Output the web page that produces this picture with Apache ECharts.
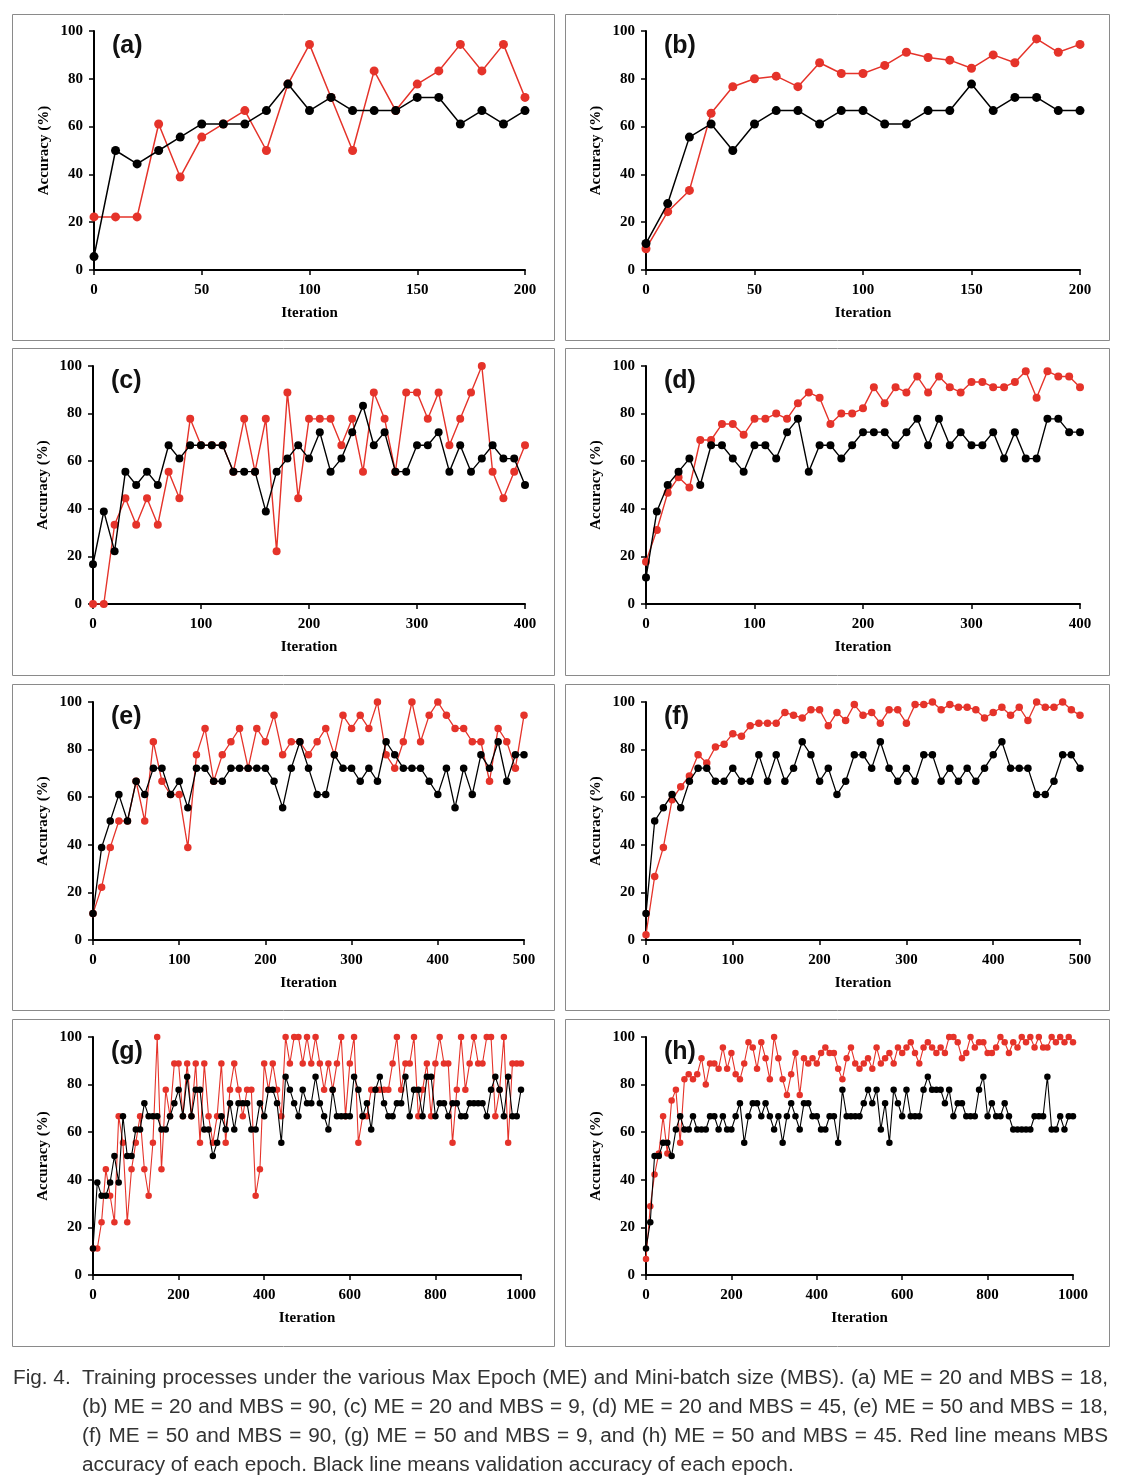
<!DOCTYPE html>
<html><head><meta charset="utf-8">
<script src="https://cdn.jsdelivr.net/npm/echarts@6/dist/echarts.min.js"></script>
<style>
html,body{margin:0;padding:0;background:#fff;}
#chart{position:absolute;left:0;top:0;width:1129px;height:1483px;}
#cap{position:absolute;left:13px;top:1362px;width:1095px;font-family:"Liberation Sans",Arial,sans-serif;font-size:21px;color:#333;line-height:29px;}
#cap .row{display:flex;align-items:flex-start;}
#cap .lead{width:69px;flex:none;}
#cap .j{display:block;flex:1;text-align:justify;text-align-last:justify;}
#cap .ind{padding-left:69px;}
</style></head>
<body>
<div id="chart"></div>
<div id="cap">
<div class="row"><span class="lead">Fig. 4.</span><span class="j">Training processes under the various Max Epoch (ME) and Mini-batch size (MBS). (a) ME = 20 and MBS = 18,</span></div>
<div class="row ind"><span class="j">(b) ME = 20 and MBS = 90, (c) ME = 20 and MBS = 9, (d) ME = 20 and MBS = 45, (e) ME = 50 and MBS = 18,</span></div>
<div class="row ind"><span class="j">(f) ME = 50 and MBS = 90, (g) ME = 50 and MBS = 9, and (h) ME = 50 and MBS = 45. Red line means MBS</span></div>
<div class="row ind"><span>accuracy of each epoch. Black line means validation accuracy of each epoch.</span></div>
</div>
<script>
// ---- data (accuracy %, one point every 10 iterations) ----
const aRed   = [22.2,22.2,22.2,61.1,38.9,55.6,61.1,66.7,50,77.8,94.4,72.2,50,83.3,66.7,77.8,83.3,94.4,83.3,94.4,72.2];
const aBlack = [5.6,50,44.4,50,55.6,61.1,61.1,61.1,66.7,77.8,66.7,72.2,66.7,66.7,66.7,72.2,72.2,61.1,66.7,61.1,66.7];

const bRed   = [8.9,24.4,33.3,65.6,76.7,80,81.1,76.7,86.7,82.2,82.2,85.6,91.1,88.9,87.8,84.4,90,86.7,96.7,91.1,94.4];
const bBlack = [11.1,27.8,55.6,61.1,50,61.1,66.7,66.7,61.1,66.7,66.7,61.1,61.1,66.7,66.7,77.8,66.7,72.2,72.2,66.7,66.7];

const cRed   = [0,0,33.3,44.4,33.3,44.4,33.3,55.6,44.4,77.8,66.7,66.7,66.7,55.6,77.8,55.6,77.8,22.2,88.9,44.4,77.8,77.8,77.8,66.7,77.8,55.6,88.9,77.8,55.6,88.9,88.9,77.8,88.9,66.7,77.8,88.9,100,55.6,44.4,55.6,66.7];
const cBlack = [16.7,38.9,22.2,55.6,50,55.6,50,66.7,61.1,66.7,66.7,66.7,66.7,55.6,55.6,55.6,38.9,55.6,61.1,66.7,61.1,72.2,55.6,61.1,72.2,83.3,66.7,72.2,55.6,55.6,66.7,66.7,72.2,55.6,66.7,55.6,61.1,66.7,61.1,61.1,50];

const dRed   = [17.8,31.1,46.7,53.3,48.9,68.9,68.9,75.6,75.6,71.1,77.8,77.8,80,77.8,84.4,88.9,86.7,75.6,80,80,82.2,91.1,84.4,91.1,88.9,95.6,88.9,95.6,91.1,88.9,93.3,93.3,91.1,91.1,93.3,97.8,86.7,97.8,95.6,95.6,91.1];
const dBlack = [11.1,38.9,50,55.6,61.1,50,66.7,66.7,61.1,55.6,66.7,66.7,61.1,72.2,77.8,55.6,66.7,66.7,61.1,66.7,72.2,72.2,72.2,66.7,72.2,77.8,66.7,77.8,66.7,72.2,66.7,66.7,72.2,61.1,72.2,61.1,61.1,77.8,77.8,72.2,72.2];

const eRed   = [11.1,22.2,38.9,50,50,66.7,50,83.3,66.7,61.1,61.1,38.9,77.8,88.9,66.7,77.8,83.3,88.9,72.2,88.9,83.3,94.4,77.8,83.3,83.3,77.8,83.3,88.9,77.8,94.4,88.9,94.4,88.9,100,77.8,72.2,83.3,100,83.3,94.4,100,94.4,88.9,88.9,83.3,83.3,66.7,88.9,83.3,72.2,94.4];
const eBlack = [11.1,38.9,50,61.1,50,66.7,61.1,72.2,72.2,61.1,66.7,55.6,72.2,72.2,66.7,66.7,72.2,72.2,72.2,72.2,72.2,66.7,55.6,72.2,83.3,72.2,61.1,61.1,77.8,72.2,72.2,66.7,72.2,66.7,83.3,77.8,72.2,72.2,72.2,66.7,61.1,72.2,55.6,72.2,61.1,77.8,72.2,83.3,66.7,77.8,77.8];

const fRed   = [2.2,26.7,38.9,58.9,64.4,68.9,77.8,74.4,81.1,82.2,86.7,85.6,90,91.1,91.1,91.1,95.6,94.4,93.3,96.7,96.7,90,95.6,92.2,98.9,94.4,95.6,91.1,96.7,96.7,91.1,98.9,98.9,100,96.7,98.9,97.8,97.8,96.7,93.3,95.6,97.8,94.4,97.8,92.2,100,97.8,97.8,100,96.7,94.4];
const fBlack = [11.1,50,55.6,61.1,55.6,66.7,72.2,72.2,66.7,66.7,72.2,66.7,66.7,77.8,66.7,77.8,66.7,72.2,83.3,77.8,66.7,72.2,61.1,66.7,77.8,77.8,72.2,83.3,72.2,66.7,72.2,66.7,77.8,77.8,66.7,72.2,66.7,72.2,66.7,72.2,77.8,83.3,72.2,72.2,72.2,61.1,61.1,66.7,77.8,77.8,72.2];

const gRed   = [11.1,11.1,22.2,44.4,33.3,22.2,66.7,55.6,22.2,44.4,
  55.6,66.7,44.4,33.3,55.6,100,44.4,77.8,66.7,88.9,
  88.9,66.7,88.9,66.7,88.9,55.6,88.9,66.7,55.6,66.7,
  88.9,55.6,77.8,88.9,77.8,66.7,77.8,77.8,33.3,44.4,
  88.9,77.8,88.9,77.8,66.7,100,88.9,100,100,88.9,
  100,88.9,100,88.9,77.8,88.9,77.8,88.9,100,66.7,
  88.9,100,55.6,66.7,66.7,77.8,77.8,77.8,77.8,77.8,
  88.9,100,77.8,88.9,88.9,100,66.7,77.8,88.9,66.7,
  88.9,100,88.9,88.9,55.6,77.8,100,77.8,88.9,100,
  88.9,88.9,100,100,66.7,77.8,100,55.6,88.9,88.9,
  88.9];
const gBlack = [11.1,38.9,33.3,33.3,38.9,50,38.9,66.7,50,50,
  61.1,61.1,72.2,66.7,66.7,66.7,61.1,61.1,66.7,72.2,
  77.8,66.7,83.3,66.7,77.8,77.8,61.1,61.1,50,55.6,
  66.7,61.1,72.2,61.1,72.2,72.2,72.2,61.1,61.1,72.2,
  66.7,77.8,77.8,72.2,55.6,83.3,77.8,72.2,66.7,77.8,
  72.2,72.2,83.3,72.2,66.7,61.1,77.8,66.7,66.7,66.7,
  66.7,83.3,77.8,66.7,72.2,61.1,77.8,83.3,72.2,66.7,
  66.7,72.2,72.2,83.3,66.7,77.8,77.8,66.7,83.3,83.3,
  66.7,72.2,72.2,66.7,72.2,72.2,66.7,66.7,72.2,72.2,
  72.2,72.2,66.7,77.8,83.3,77.8,66.7,83.3,66.7,66.7,
  77.8];

const hRed   = [6.7,28.9,42.2,51.1,66.7,51.1,73.3,77.8,55.6,82.2,
  84.4,82.2,84.4,91.1,80,88.9,88.9,86.7,95.6,86.7,
  93.3,84.4,82.2,88.9,97.8,95.6,86.7,97.8,91.1,82.2,
  100,91.1,82.2,75.6,84.4,93.3,75.6,91.1,88.9,91.1,
  88.9,93.3,95.6,93.3,93.3,86.7,82.2,91.1,95.6,88.9,
  86.7,88.9,91.1,86.7,95.6,88.9,91.1,93.3,88.9,95.6,
  93.3,95.6,97.8,93.3,88.9,95.6,97.8,95.6,93.3,95.6,
  93.3,100,100,97.8,91.1,93.3,100,95.6,97.8,97.8,
  93.3,93.3,95.6,100,97.8,93.3,97.8,95.6,100,97.8,
  100,95.6,100,95.6,95.6,100,97.8,100,97.8,100,
  97.8];
const hBlack = [11.1,22.2,50,50,55.6,55.6,50,61.1,66.7,61.1,
  61.1,66.7,61.1,61.1,61.1,66.7,66.7,61.1,66.7,61.1,
  61.1,66.7,72.2,55.6,66.7,72.2,72.2,66.7,72.2,66.7,
  61.1,66.7,55.6,66.7,72.2,66.7,61.1,72.2,72.2,66.7,
  66.7,61.1,61.1,66.7,66.7,55.6,77.8,66.7,66.7,66.7,
  66.7,72.2,77.8,72.2,77.8,61.1,72.2,55.6,77.8,72.2,
  66.7,77.8,66.7,66.7,66.7,77.8,83.3,77.8,77.8,77.8,
  72.2,77.8,66.7,72.2,72.2,66.7,66.7,66.7,77.8,83.3,
  66.7,72.2,66.7,66.7,72.2,66.7,61.1,61.1,61.1,61.1,
  61.1,66.7,66.7,66.7,83.3,61.1,61.1,66.7,61.1,66.7,
  66.7];

const iterStep = 10;
const panelLabels = ['(a)','(b)','(c)','(d)','(e)','(f)','(g)','(h)'];
const xMaxes = [200,200,400,400,500,500,1000,1000];
const xIntervals = [50,50,100,100,100,100,200,200];
const xName = 'Iteration';
const yName = 'Accuracy (%)';

// ---- layout ----
const grids = [
  {left:94, top:31, width:431, height:239},
  {left:646,top:31, width:434, height:239},
  {left:93, top:366,width:432, height:238},
  {left:646,top:366,width:434, height:238},
  {left:93, top:702,width:431, height:238},
  {left:646,top:702,width:434, height:238},
  {left:93, top:1037,width:428,height:238},
  {left:646,top:1037,width:427,height:238}
];
const boxes = [
  [12,14,542,326],[565,14,544,326],
  [12,348,542,327],[565,348,544,327],
  [12,684,542,326],[565,684,544,326],
  [12,1019,542,327],[565,1019,544,327]
];
const symSizes = [9,9,8,8,7.5,7.5,6.5,6.5];
const lineWidths = [1.5,1.5,1.4,1.4,1.3,1.3,1.1,1.1];
const reds = [aRed,bRed,cRed,dRed,eRed,fRed,gRed,hRed];
const blacks = [aBlack,bBlack,cBlack,dBlack,eBlack,fBlack,gBlack,hBlack];

const RED = '#e5332a', BLK = '#000';
const serif = '"Liberation Serif","Times New Roman",serif';
const sans = '"Liberation Sans",Arial,sans-serif';

const toPairs = arr => arr.map((v,i)=>[i*iterStep, v]);

const option = {
  animation:false,
  backgroundColor:'#fff',
  grid: grids.map(g=>Object.assign({containLabel:false},g)),
  xAxis: grids.map((g,i)=>({
    gridIndex:i, type:'value', min:0, max:xMaxes[i], interval:xIntervals[i],
    axisLine:{show:true,onZero:false,lineStyle:{color:'#000',width:2}},
    axisTick:{show:true,inside:false,length:5,lineStyle:{color:'#000',width:1.5}},
    splitLine:{show:false},
    axisLabel:{color:'#000',fontFamily:serif,fontWeight:'bold',fontSize:15,margin:13,formatter:v=>String(v)},
    name:xName, nameLocation:'middle', nameGap:36,
    nameTextStyle:{color:'#000',fontFamily:serif,fontWeight:'bold',fontSize:15}
  })),
  yAxis: grids.map((g,i)=>({
    gridIndex:i, type:'value', min:0, max:100, interval:20,
    axisLine:{show:true,onZero:false,lineStyle:{color:'#000',width:2}},
    axisTick:{show:true,inside:false,length:5,lineStyle:{color:'#000',width:1.5}},
    splitLine:{show:false},
    axisLabel:{color:'#000',fontFamily:serif,fontWeight:'bold',fontSize:15,margin:11,formatter:v=>String(v)},
    name:yName, nameLocation:'middle', nameGap:42, nameRotate:90,
    nameTextStyle:{color:'#000',fontFamily:serif,fontWeight:'bold',fontSize:15}
  })),
  series: [],
  graphic: []
};

for (let i=0;i<8;i++){
  option.series.push({
    type:'line', xAxisIndex:i, yAxisIndex:i, data:toPairs(reds[i]),
    symbol:'circle', symbolSize:symSizes[i], showSymbol:true, showAllSymbol:true,
    itemStyle:{color:RED}, lineStyle:{color:RED,width:lineWidths[i]}, z:2
  });
  option.series.push({
    type:'line', xAxisIndex:i, yAxisIndex:i, data:toPairs(blacks[i]),
    symbol:'circle', symbolSize:symSizes[i], showSymbol:true, showAllSymbol:true,
    itemStyle:{color:BLK}, lineStyle:{color:BLK,width:lineWidths[i]}, z:3
  });
  const b = boxes[i];
  option.graphic.push({
    type:'rect', shape:{x:b[0]+0.5,y:b[1]+0.5,width:b[2],height:b[3]},
    style:{fill:'none',stroke:'#8a8a8a',lineWidth:1}, silent:true
  });
  const g = grids[i];
  option.graphic.push({
    type:'text', x:g.left+18, y:g.top+3, z:10,
    style:{text:panelLabels[i], fill:'#111', font:'bold 25px '+sans, textVerticalAlign:'top'}
  });
}

const chart = echarts.init(document.getElementById('chart'), null, {renderer:'canvas'});
chart.setOption(option);

// shrink caption font just enough that every caption line stays on one line
(function fitCaption(){
  const cap = document.getElementById('cap');
  const spans = cap.querySelectorAll('.j');
  let fs = 21;
  const wraps = () => Array.from(spans).some(s => s.getBoundingClientRect().height > 32);
  cap.style.fontSize = fs + 'px';
  while (wraps() && fs > 16) { fs -= 0.25; cap.style.fontSize = fs + 'px'; }
})();
</script>
</body></html>
